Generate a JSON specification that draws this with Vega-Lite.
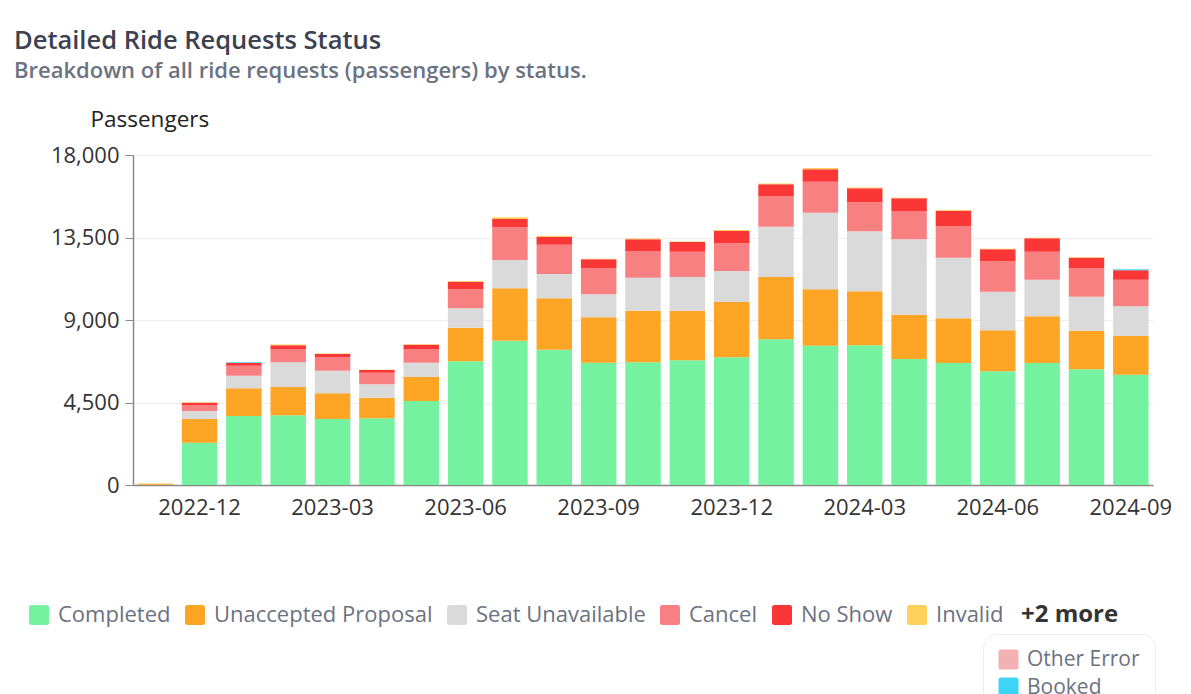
{
  "$schema": "https://vega.github.io/schema/vega-lite/v6.json",
  "width": 1020,
  "height": 330,
  "autosize": {"type": "none"},
  "padding": {"left": 133, "top": 155, "right": 38, "bottom": 209},
  "background": "white",
  "title": {
    "text": "Detailed Ride Requests Status",
    "subtitle": "Breakdown of all ride requests (passengers) by status.",
    "anchor": "start",
    "frame": "group",
    "dx": -119,
    "offset": 26,
    "font": "Open Sans",
    "fontSize": 25.5,
    "fontWeight": 600,
    "color": "#3b4150",
    "subtitleFont": "Open Sans",
    "subtitleFontSize": 22,
    "subtitleFontWeight": 600,
    "subtitleColor": "#6b7280",
    "subtitlePadding": 7
  },
  "config": {"view": {"stroke": null}, "font": "Open Sans"},
  "datasets": {
    "ranks": [
      {"status": "Completed", "rank": 1},
      {"status": "Unaccepted Proposal", "rank": 2},
      {"status": "Seat Unavailable", "rank": 3},
      {"status": "Cancel", "rank": 4},
      {"status": "No Show", "rank": 5},
      {"status": "Invalid", "rank": 6},
      {"status": "Other Error", "rank": 7},
      {"status": "Booked", "rank": 8}
    ]
  },
  "data": {
    "values": [
      {"month": "2022-11", "Completed": 20, "Unaccepted Proposal": 45, "Seat Unavailable": 0, "Cancel": 0, "No Show": 0, "Invalid": 20, "Booked": 0},
      {"month": "2022-12", "Completed": 2310, "Unaccepted Proposal": 1290, "Seat Unavailable": 436, "Cancel": 327, "No Show": 127, "Invalid": 30, "Booked": 0},
      {"month": "2023-01", "Completed": 3763, "Unaccepted Proposal": 1509, "Seat Unavailable": 691, "Cancel": 546, "No Show": 145, "Invalid": 0, "Booked": 45},
      {"month": "2023-02", "Completed": 3800, "Unaccepted Proposal": 1545, "Seat Unavailable": 1345, "Cancel": 727, "No Show": 200, "Invalid": 50, "Booked": 0},
      {"month": "2023-03", "Completed": 3600, "Unaccepted Proposal": 1400, "Seat Unavailable": 1236, "Cancel": 745, "No Show": 164, "Invalid": 30, "Booked": 0},
      {"month": "2023-04", "Completed": 3636, "Unaccepted Proposal": 1127, "Seat Unavailable": 727, "Cancel": 637, "No Show": 145, "Invalid": 20, "Booked": 0},
      {"month": "2023-05", "Completed": 4582, "Unaccepted Proposal": 1309, "Seat Unavailable": 781, "Cancel": 746, "No Show": 236, "Invalid": 30, "Booked": 0},
      {"month": "2023-06", "Completed": 6745, "Unaccepted Proposal": 1836, "Seat Unavailable": 1054, "Cancel": 1037, "No Show": 418, "Invalid": 40, "Booked": 0},
      {"month": "2023-07", "Completed": 7872, "Unaccepted Proposal": 2855, "Seat Unavailable": 1545, "Cancel": 1781, "No Show": 455, "Invalid": 90, "Booked": 0},
      {"month": "2023-08", "Completed": 7381, "Unaccepted Proposal": 2800, "Seat Unavailable": 1327, "Cancel": 1600, "No Show": 437, "Invalid": 50, "Booked": 0},
      {"month": "2023-09", "Completed": 6672, "Unaccepted Proposal": 2473, "Seat Unavailable": 1254, "Cancel": 1418, "No Show": 491, "Invalid": 30, "Booked": 0},
      {"month": "2023-10", "Completed": 6690, "Unaccepted Proposal": 2818, "Seat Unavailable": 1800, "Cancel": 1455, "No Show": 636, "Invalid": 50, "Booked": 0},
      {"month": "2023-11", "Completed": 6799, "Unaccepted Proposal": 2691, "Seat Unavailable": 1855, "Cancel": 1381, "No Show": 527, "Invalid": 30, "Booked": 0},
      {"month": "2023-12", "Completed": 6963, "Unaccepted Proposal": 3018, "Seat Unavailable": 1691, "Cancel": 1509, "No Show": 672, "Invalid": 50, "Booked": 0},
      {"month": "2024-01", "Completed": 7945, "Unaccepted Proposal": 3400, "Seat Unavailable": 2745, "Cancel": 1673, "No Show": 636, "Invalid": 50, "Booked": 0},
      {"month": "2024-02", "Completed": 7599, "Unaccepted Proposal": 3073, "Seat Unavailable": 4181, "Cancel": 1691, "No Show": 672, "Invalid": 70, "Booked": 0},
      {"month": "2024-03", "Completed": 7617, "Unaccepted Proposal": 2946, "Seat Unavailable": 3272, "Cancel": 1582, "No Show": 764, "Invalid": 50, "Booked": 0},
      {"month": "2024-04", "Completed": 6872, "Unaccepted Proposal": 2418, "Seat Unavailable": 4109, "Cancel": 1545, "No Show": 691, "Invalid": 40, "Booked": 0},
      {"month": "2024-05", "Completed": 6654, "Unaccepted Proposal": 2436, "Seat Unavailable": 3309, "Cancel": 1727, "No Show": 836, "Invalid": 40, "Booked": 0},
      {"month": "2024-06", "Completed": 6199, "Unaccepted Proposal": 2237, "Seat Unavailable": 2108, "Cancel": 1655, "No Show": 654, "Invalid": 30, "Booked": 0},
      {"month": "2024-07", "Completed": 6654, "Unaccepted Proposal": 2545, "Seat Unavailable": 2000, "Cancel": 1527, "No Show": 727, "Invalid": 30, "Booked": 0},
      {"month": "2024-08", "Completed": 6308, "Unaccepted Proposal": 2109, "Seat Unavailable": 1855, "Cancel": 1545, "No Show": 582, "Invalid": 30, "Booked": 0},
      {"month": "2024-09", "Completed": 6018, "Unaccepted Proposal": 2108, "Seat Unavailable": 1618, "Cancel": 1455, "No Show": 509, "Invalid": 0, "Booked": 60}
    ]
  },
  "transform": [
    {"fold": ["Completed", "Unaccepted Proposal", "Seat Unavailable", "Cancel", "No Show", "Invalid", "Booked"], "as": ["status", "passengers"]},
    {"lookup": "status", "from": {"data": {"name": "ranks"}, "key": "status", "fields": ["rank"]}}
  ],
  "layer": [
    {
      "mark": {"type": "bar"},
      "encoding": {
        "x": {
          "field": "month", "type": "ordinal",
          "scale": {"paddingInner": 0.2, "paddingOuter": 0.1},
          "axis": {
            "values": ["2022-12", "2023-03", "2023-06", "2023-09", "2023-12", "2024-03", "2024-06", "2024-09"],
            "title": null, "labelAngle": 0, "ticks": false, "labelPadding": 12,
            "labelFont": "Open Sans", "labelFontSize": 22, "labelColor": "#333333",
            "domainColor": "#888888", "domainWidth": 1.5, "grid": false
          }
        },
        "y": {
          "field": "passengers", "type": "quantitative", "stack": "zero",
          "scale": {"domain": [0, 18000]},
          "axis": {
            "values": [0, 4500, 9000, 13500, 18000], "format": ",.0f",
            "title": "Passengers", "titleAngle": 0, "titleAlign": "left", "titleBaseline": "alphabetic",
            "titleX": -43, "titleY": -29, "titleFont": "Open Sans", "titleFontSize": 22.5, "titleFontWeight": "normal", "titleColor": "#222222",
            "labelFont": "Open Sans", "labelFontSize": 22, "labelColor": "#333333", "labelPadding": 6,
            "tickSize": 8, "tickColor": "#888888", "domainColor": "#888888", "domainWidth": 1.5,
            "grid": true, "gridColor": "#eeeeee"
          }
        },
        "order": {"field": "rank", "type": "quantitative", "sort": "ascending"},
        "color": {
          "field": "status", "type": "nominal",
          "scale": {
            "domain": ["Completed", "Unaccepted Proposal", "Seat Unavailable", "Cancel", "No Show", "Invalid", "Other Error", "Booked"],
            "range": ["#74f2a0", "#ffa526", "#dadada", "#f98080", "#fa3636", "#ffd15c", "#f4b1b3", "#3dd4f5"]
          },
          "legend": {
            "values": ["Completed", "Unaccepted Proposal", "Seat Unavailable", "Cancel", "No Show", "Invalid"],
            "orient": "none", "legendX": -105, "legendY": 449, "direction": "horizontal", "padding": 0,
            "title": "+2 more", "titleOrient": "right", "titleFont": "Open Sans", "titleFontSize": 24, "titleFontWeight": "bold", "titleColor": "#333333", "titlePadding": 18,
            "labelFont": "Open Sans", "labelFontSize": 22, "labelColor": "#6b7280", "labelOffset": 8, "labelLimit": 400,
            "columnPadding": 13,
            "symbolType": "M-0.75,-1L0.75,-1Q1,-1,1,-0.75L1,0.75Q1,1,0.75,1L-0.75,1Q-1,1,-1,0.75L-1,-0.75Q-1,-1,-0.75,-1Z",
            "symbolSize": 400, "symbolStrokeWidth": 0, "symbolOpacity": 1
          }
        }
      }
    },
    {
      "transform": [{"filter": {"field": "status", "oneOf": ["Other Error", "Booked"]}}],
      "mark": {"type": "bar", "opacity": 0},
      "encoding": {
        "x": {"field": "month", "type": "ordinal"},
        "y": {"field": "passengers", "type": "quantitative", "stack": "zero"},
        "fill": {
          "field": "status", "type": "nominal",
          "scale": {"domain": ["Other Error", "Booked"], "range": ["#f4b1b3", "#3dd4f5"]},
          "legend": {
            "values": ["Other Error", "Booked"],
            "orient": "none", "legendX": 850, "legendY": 479, "direction": "vertical",
            "title": null, "fillColor": "white", "strokeColor": "#eceef2", "cornerRadius": 14, "padding": 15,
            "labelFont": "Open Sans", "labelFontSize": 21, "labelColor": "#6b7280", "labelOffset": 8, "rowPadding": 6, "labelLimit": 400,
            "symbolType": "M-0.75,-1L0.75,-1Q1,-1,1,-0.75L1,0.75Q1,1,0.75,1L-0.75,1Q-1,1,-1,0.75L-1,-0.75Q-1,-1,-0.75,-1Z",
            "symbolSize": 400, "symbolStrokeWidth": 0, "symbolOpacity": 1
          }
        }
      }
    }
  ]
}
